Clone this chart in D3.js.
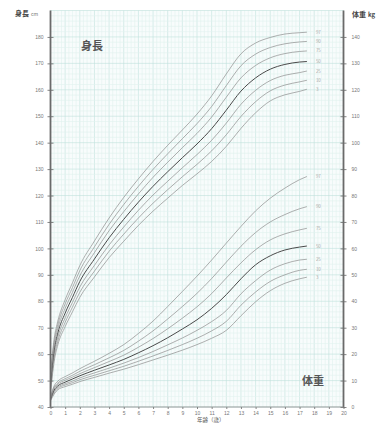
<!DOCTYPE html>
<html>
<head>
<meta charset="utf-8">
<script src="https://cdn.jsdelivr.net/npm/d3@7"></script>
<style>
  html, body { margin: 0; padding: 0; background: #fff; }
  svg { display: block; font-family: "Noto Sans CJK JP", "Liberation Sans", sans-serif; }
</style>
</head>
<body>
<svg id="chart" width="390" height="423"></svg>
<script>
// ages (years) at which the curves were read
var ages = [0, 0.25, 0.5, 1, 1.5, 2, 3, 4, 5, 6, 7, 8, 9, 10, 11, 12, 13, 14, 15, 16, 17, 17.5];
var percentiles = ["3", "10", "25", "50", "75", "90", "97"];

// height (cm) per percentile
var height3  = [45.2, 57.2, 63.5, 70.4, 76.0, 81.5, 89.2, 96.5, 102.7, 108.7, 114.1, 119.0, 123.8, 128.2, 132.9, 138.6, 145.4, 151.3, 155.8, 158.1, 159.4, 160.2];
var height10 = [46.4, 58.6, 64.9, 72.0, 77.8, 83.4, 91.4, 98.9, 105.4, 111.5, 117.1, 122.2, 127.1, 131.8, 136.9, 143.0, 149.9, 155.5, 159.6, 161.8, 163.0, 163.6];
var height25 = [47.7, 60.0, 66.4, 73.7, 79.6, 85.4, 93.6, 101.3, 108.1, 114.4, 120.2, 125.4, 130.5, 135.5, 140.9, 147.4, 154.5, 159.8, 163.5, 165.5, 166.5, 167.1];
var height50 = [49.0, 61.5, 68.0, 75.5, 81.5, 87.5, 96.0, 104.0, 111.0, 117.5, 123.5, 129.0, 134.3, 139.5, 145.3, 152.3, 159.5, 164.5, 167.8, 169.6, 170.5, 170.7];
var height75 = [50.3, 63.0, 69.6, 77.3, 83.4, 89.6, 98.4, 106.7, 113.9, 120.6, 126.9, 132.6, 138.1, 143.5, 149.7, 157.2, 164.5, 169.2, 172.1, 173.7, 174.5, 174.7];
var height90 = [51.6, 64.4, 71.1, 79.0, 85.2, 91.6, 100.6, 109.1, 116.6, 123.5, 129.9, 135.8, 141.5, 147.2, 153.7, 161.6, 169.1, 173.5, 176.0, 177.4, 178.1, 178.3];
var height97 = [52.8, 65.8, 72.5, 80.6, 87.0, 93.5, 102.8, 111.5, 119.3, 126.3, 132.9, 139.0, 144.8, 150.8, 157.7, 166.0, 173.6, 177.7, 179.8, 181.1, 181.6, 181.8];

// weight (kg) per percentile
var weight3  = [2.3, 4.9, 6.5, 7.7, 8.6, 9.6, 11.2, 12.8, 14.3, 16.0, 17.8, 19.6, 21.5, 23.6, 26.0, 29.0, 34.5, 39.8, 44.0, 46.8, 48.5, 49.1];
var weight10 = [2.6, 5.4, 7.0, 8.3, 9.2, 10.3, 12.0, 13.7, 15.4, 17.3, 19.3, 21.4, 23.6, 26.0, 28.8, 32.4, 38.5, 43.5, 47.5, 50.0, 51.7, 52.1];
var weight25 = [2.8, 5.9, 7.5, 8.8, 9.8, 11.0, 12.9, 14.7, 16.6, 18.7, 21.0, 23.5, 26.1, 29.0, 32.3, 36.5, 42.8, 47.8, 51.8, 54.2, 55.6, 55.9];
var weight50 = [3.0, 6.4, 8.0, 9.4, 10.6, 11.8, 13.9, 15.9, 18.0, 20.5, 23.2, 26.2, 29.5, 33.0, 37.3, 42.5, 48.5, 53.8, 57.2, 59.4, 60.5, 60.9];
var weight75 = [3.3, 6.9, 8.6, 10.1, 11.3, 12.6, 14.9, 17.2, 19.6, 22.6, 25.9, 29.6, 33.6, 37.9, 42.9, 48.8, 54.5, 59.5, 63.2, 65.5, 67.0, 67.6];
var weight90 = [3.6, 7.4, 9.1, 10.7, 12.0, 13.5, 16.0, 18.6, 21.4, 24.9, 28.8, 33.3, 38.0, 43.0, 48.6, 54.8, 60.8, 66.0, 70.0, 72.8, 75.0, 75.8];
var weight97 = [3.9, 8.0, 9.8, 11.5, 12.9, 14.5, 17.3, 20.3, 23.6, 27.8, 32.5, 38.0, 43.7, 49.5, 55.6, 62.0, 68.3, 74.2, 79.0, 82.8, 86.0, 87.2];

var heightSeries = [height3, height10, height25, height50, height75, height90, height97];
var weightSeries = [weight3, weight10, weight25, weight50, weight75, weight90, weight97];

var ageTicks = d3.range(0, 21);
var heightTicks = d3.range(40, 190, 10);
var weightTicks = d3.range(0, 150, 10);

var svg = d3.select("#chart");
var plotLeft = 50.5, plotRight = 343.5, plotTop = 10.5, plotBottom = 407;

var x = d3.scaleLinear().domain([0, 20]).range([plotLeft, plotRight]);
var yH = d3.scaleLinear().domain([40, 190]).range([plotBottom, plotTop]);
var yW = d3.scaleLinear().domain([0, 150]).range([plotBottom, plotTop]);

// grid paper
var grid = svg.append("g");
grid.append("rect")
    .attr("x", plotLeft).attr("y", plotTop)
    .attr("width", plotRight - plotLeft).attr("height", plotBottom - plotTop)
    .attr("fill", "#f8fcfc");
grid.selectAll("line.v")
  .data(d3.range(0, 20.01, 0.25))
  .enter().append("line")
    .attr("x1", d => x(d)).attr("x2", d => x(d))
    .attr("y1", plotTop).attr("y2", plotBottom)
    .attr("stroke", d => Math.abs(d - Math.round(d)) < 1e-6 ? "#bfe0db" : "#e0f1ee")
    .attr("stroke-width", 0.6);
grid.selectAll("line.h")
  .data(d3.range(40, 190.01, 2))
  .enter().append("line")
    .attr("x1", plotLeft).attr("x2", plotRight)
    .attr("y1", d => yH(d)).attr("y2", d => yH(d))
    .attr("stroke", d => d % 10 === 0 ? "#bfe0db" : "#e0f1ee")
    .attr("stroke-width", 0.6);

// curves
var line = d3.line().curve(d3.curveMonotoneX);

function drawSet(series, yScale) {
  var g = svg.append("g");
  series.forEach(function(vals, i) {
    var mid = percentiles[i] === "50";
    g.append("path")
      .attr("d", line(vals.map((v, j) => [x(ages[j]), yScale(v)])))
      .attr("fill", "none")
      .attr("stroke", mid ? "#4a4a4a" : "#8c8c8c")
      .attr("stroke-width", mid ? 1.0 : 0.7);
    g.append("text")
      .attr("x", x(17.5) + 9)
      .attr("y", yScale(vals[vals.length - 1]) + 1.5)
      .attr("font-size", 4.5)
      .attr("fill", "#aaa")
      .text(percentiles[i]);
  });
}
drawSet(heightSeries, yH);
drawSet(weightSeries, yW);

// axes
var axisColor = "#666";
var yAxisL = svg.append("g").attr("transform", "translate(" + plotLeft + ",0)")
    .call(d3.axisLeft(yH).tickValues(heightTicks).tickSize(3).tickPadding(4));
var yAxisR = svg.append("g").attr("transform", "translate(" + plotRight + ",0)")
    .call(d3.axisRight(yW).tickValues(weightTicks).tickSize(3).tickPadding(5));
var xAxis = svg.append("g").attr("transform", "translate(0," + plotBottom + ")")
    .call(d3.axisBottom(x).tickValues(ageTicks).tickSize(2).tickPadding(2));

[yAxisL, yAxisR, xAxis].forEach(function(a) {
  a.selectAll("text").attr("font-size", 5).attr("fill", "#777")
    .attr("font-family", "Liberation Sans, sans-serif");
  a.selectAll(".tick line").attr("stroke", axisColor).attr("stroke-width", 0.8);
  a.select(".domain").attr("stroke", "none");
});
yAxisL.selectAll(".tick line").attr("x2", 3).attr("x1", -3);
yAxisR.selectAll(".tick line").attr("x1", -3).attr("x2", 3);

svg.append("line").attr("x1", plotLeft).attr("x2", plotLeft).attr("y1", plotTop).attr("y2", plotBottom)
  .attr("stroke", "#6a6a6a").attr("stroke-width", 1.8);
svg.append("line").attr("x1", plotRight).attr("x2", plotRight).attr("y1", plotTop).attr("y2", plotBottom)
  .attr("stroke", "#6a6a6a").attr("stroke-width", 1.8);
svg.append("line").attr("x1", plotLeft).attr("x2", plotRight).attr("y1", plotBottom).attr("y2", plotBottom)
  .attr("stroke", "#888").attr("stroke-width", 0.8);

// titles
var tl = svg.append("text").attr("x", 15).attr("y", 16).attr("fill", "#444");
tl.append("tspan").attr("font-size", 7).attr("font-weight", "bold").text("身長");
tl.append("tspan").attr("font-size", 5).attr("dx", 2).attr("fill", "#777").text("cm");

var tr = svg.append("text").attr("x", 352).attr("y", 17).attr("fill", "#444");
tr.append("tspan").attr("font-size", 7).attr("font-weight", "bold").text("体重");
tr.append("tspan").attr("font-size", 6).attr("dx", 2).attr("font-weight", "bold").text("kg");

svg.append("text").attr("x", 81).attr("y", 50)
  .attr("font-size", 11).attr("font-weight", "bold").attr("fill", "#555").text("身長");
svg.append("text").attr("x", 302).attr("y", 385)
  .attr("font-size", 11).attr("font-weight", "bold").attr("fill", "#555").text("体重");

svg.append("text").attr("x", 197).attr("y", 421.6)
  .attr("font-size", 5.5).attr("fill", "#555").text("年齢（歳）");
</script>
</body>
</html>
